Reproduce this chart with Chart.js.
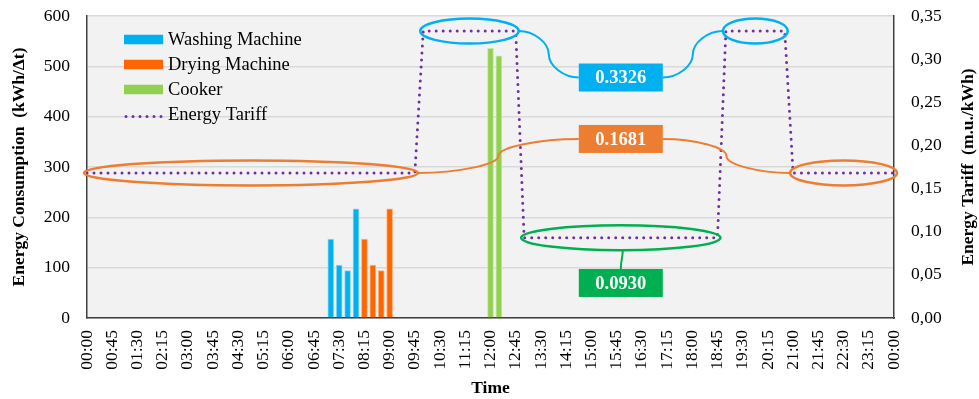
<!DOCTYPE html>
<html>
<head>
<meta charset="utf-8">
<script src="https://cdn.jsdelivr.net/npm/chart.js@4.4.1/dist/chart.umd.min.js"></script>
<style>
html, body { margin: 0; padding: 0; background: #fff; }
#wrap { width: 979px; height: 399px; position: relative; }
</style>
</head>
<body>
<div id="wrap"><canvas id="energyChart"></canvas></div>
<script>
// 15-minute slots over one day
const times = [
    '00:00', '00:15', '00:30', '00:45', '01:00', '01:15', '01:30', '01:45',
    '02:00', '02:15', '02:30', '02:45', '03:00', '03:15', '03:30', '03:45',
    '04:00', '04:15', '04:30', '04:45', '05:00', '05:15', '05:30', '05:45',
    '06:00', '06:15', '06:30', '06:45', '07:00', '07:15', '07:30', '07:45',
    '08:00', '08:15', '08:30', '08:45', '09:00', '09:15', '09:30', '09:45',
    '10:00', '10:15', '10:30', '10:45', '11:00', '11:15', '11:30', '11:45',
    '12:00', '12:15', '12:30', '12:45', '13:00', '13:15', '13:30', '13:45',
    '14:00', '14:15', '14:30', '14:45', '15:00', '15:15', '15:30', '15:45',
    '16:00', '16:15', '16:30', '16:45', '17:00', '17:15', '17:30', '17:45',
    '18:00', '18:15', '18:30', '18:45', '19:00', '19:15', '19:30', '19:45',
    '20:00', '20:15', '20:30', '20:45', '21:00', '21:15', '21:30', '21:45',
    '22:00', '22:15', '22:30', '22:45', '23:00', '23:15', '23:30', '23:45',
    '00:00'
];

const tickLabels = [
    '00:00', '00:45', '01:30', '02:15', '03:00', '03:45', '04:30', '05:15',
    '06:00', '06:45', '07:30', '08:15', '09:00', '09:45', '10:30', '11:15',
    '12:00', '12:45', '13:30', '14:15', '15:00', '15:45', '16:30', '17:15',
    '18:00', '18:45', '19:30', '20:15', '21:00', '21:45', '22:30', '23:15'
];

const washTimes = ['07:15', '07:30', '07:45', '08:00'];
const washValues = [157, 105, 94, 217];

const dryTimes = ['08:15', '08:30', '08:45', '09:00'];
const dryValues = [157, 105, 94, 217];

const cookTimes = ['12:00', '12:15'];
const cookValues = [536, 521];

const tariff = [
    0.1681, 0.1681, 0.1681, 0.1681, 0.1681, 0.1681, 0.1681, 0.1681,
    0.1681, 0.1681, 0.1681, 0.1681, 0.1681, 0.1681, 0.1681, 0.1681,
    0.1681, 0.1681, 0.1681, 0.1681, 0.1681, 0.1681, 0.1681, 0.1681,
    0.1681, 0.1681, 0.1681, 0.1681, 0.1681, 0.1681, 0.1681, 0.1681,
    0.1681, 0.1681, 0.1681, 0.1681, 0.1681, 0.1681, 0.1681, 0.1681,
    0.3326, 0.3326, 0.3326, 0.3326, 0.3326, 0.3326, 0.3326, 0.3326,
    0.3326, 0.3326, 0.3326, 0.3326, 0.0930, 0.0930, 0.0930, 0.0930,
    0.0930, 0.0930, 0.0930, 0.0930, 0.0930, 0.0930, 0.0930, 0.0930,
    0.0930, 0.0930, 0.0930, 0.0930, 0.0930, 0.0930, 0.0930, 0.0930,
    0.0930, 0.0930, 0.0930, 0.0930, 0.3326, 0.3326, 0.3326, 0.3326,
    0.3326, 0.3326, 0.3326, 0.3326, 0.1681, 0.1681, 0.1681, 0.1681,
    0.1681, 0.1681, 0.1681, 0.1681, 0.1681, 0.1681, 0.1681, 0.1681,
    0.1681
];

// callouts: tariff level, slot ranges circled, where the label box sits (tariff units)
const callouts = [
    { value: 0.3326, color: '#00B0F0', spans: [[40, 51], [76, 83]], boxY: 0.2787 },
    { value: 0.1681, color: '#ED7D31', spans: [[0, 39], [84, 96]], boxY: 0.2075 },
    { value: 0.0930, color: '#00B050', spans: [[52, 75]], boxY: 0.0406 }
];
const boxIndex = 63.5;

const serif = "'Liberation Serif', 'Times New Roman', serif";
Chart.defaults.font.family = serif;
Chart.defaults.color = '#000';

function curvedH(ctx, x1, y1, x2, y2) {
    const xm = (x1 + x2) / 2;
    const dy = y2 - y1;
    ctx.moveTo(x1, y1);
    ctx.bezierCurveTo((x1 + xm) / 2, y1, xm, y1 + dy / 4, xm, y1 + dy / 2);
    ctx.bezierCurveTo(xm, y1 + dy * 3 / 4, (xm + x2) / 2, y2, x2, y2);
}

// keep the plot top at the layout padding instead of tick padding
function fixY(width) {
    return s => {
        s.width = width;
        s.paddingTop = 0;
        s.paddingBottom = 0;
    };
}

const decor = {
    id: 'decor',
    beforeDraw(chart) {
        const a = chart.chartArea;
        const ctx = chart.ctx;
        ctx.save();
        ctx.fillStyle = '#F2F2F2';
        ctx.fillRect(a.left, a.top, a.right - a.left, a.bottom - a.top);
        ctx.restore();
    },
    afterDatasetsDraw(chart) {
        const ctx = chart.ctx;
        const a = chart.chartArea;
        const xS = chart.scales.x;
        const yT = chart.scales.y2;
        const pad = 3, ry = 12.5, bw = 84, bh = 28;
        const bx = xS.getPixelForValue(boxIndex);

        ctx.save();
        callouts.forEach(c => {
            const cy = yT.getPixelForValue(c.value);
            const by = yT.getPixelForValue(c.boxY);
            const rings = c.spans.map(s => {
                const x0 = xS.getPixelForValue(s[0]) - pad;
                const x1 = xS.getPixelForValue(s[1]) + pad;
                return { l: x0, r: x1, cx: (x0 + x1) / 2, rx: (x1 - x0) / 2 };
            });

            ctx.strokeStyle = c.color;
            ctx.lineWidth = 2.5;
            rings.forEach(r => {
                ctx.beginPath();
                ctx.ellipse(r.cx, cy, r.rx, ry, 0, 0, Math.PI * 2);
                ctx.stroke();
            });

            ctx.lineWidth = 2;
            ctx.beginPath();
            if (rings.length === 2) {
                curvedH(ctx, rings[0].r, cy, bx - bw / 2, by);
                curvedH(ctx, bx + bw / 2, by, rings[1].l, cy);
            } else {
                const sx = rings[0].cx + 2, sy = cy + ry - 1;
                const ey = by - bh / 2;
                ctx.moveTo(sx, sy);
                ctx.bezierCurveTo(sx, sy + 10, bx, ey - 10, bx, ey);
            }
            ctx.stroke();

            ctx.fillStyle = c.color;
            ctx.fillRect(bx - bw / 2, by - bh / 2, bw, bh);
            ctx.fillStyle = '#fff';
            ctx.font = 'bold 18.5px ' + serif;
            ctx.textAlign = 'center';
            ctx.textBaseline = 'middle';
            ctx.fillText(c.value.toFixed(4), bx, by + 1);
        });

        // legend inside the plot
        const lx = a.left + 37;
        let ly = a.top + 23.5;
        ctx.font = '18.5px ' + serif;
        ctx.textAlign = 'left';
        ctx.textBaseline = 'middle';
        chart.data.datasets.forEach(ds => {
            if (ds.type === 'line') {
                ctx.save();
                ctx.strokeStyle = ds.borderColor;
                ctx.lineWidth = 3;
                ctx.lineCap = 'round';
                ctx.setLineDash([0, 7]);
                ctx.beginPath();
                ctx.moveTo(lx + 2, ly + 2);
                ctx.lineTo(lx + 40, ly + 2);
                ctx.stroke();
                ctx.restore();
            } else {
                ctx.fillStyle = ds.backgroundColor;
                ctx.fillRect(lx, ly - 4.75, 39, 9.5);
            }
            ctx.fillStyle = '#000';
            ctx.fillText(ds.label, lx + 44, ly + 1);
            ly += 25;
        });

        // right axis title, reading bottom to top
        ctx.translate(968, (a.top + a.bottom) / 2);
        ctx.rotate(-Math.PI / 2);
        ctx.font = 'bold 17.5px ' + serif;
        ctx.textAlign = 'center';
        ctx.fillStyle = '#000';
        ctx.fillText('Energy Tariff  (m.u./kWh)', 0, 0);
        ctx.restore();
    }
};

const points = (ts, vs) => ts.map((t, i) => ({ x: t, y: vs[i] }));

new Chart(document.getElementById('energyChart'), {
    data: {
        labels: times,
        datasets: [
            {
                type: 'bar',
                label: 'Washing Machine',
                data: points(washTimes, washValues),
                backgroundColor: '#00B0F0',
                borderColor: '#8ED9F6',
                borderWidth: 1,
                barThickness: 6,
                grouped: false,
                yAxisID: 'y',
                order: 2
            },
            {
                type: 'bar',
                label: 'Drying Machine',
                data: points(dryTimes, dryValues),
                backgroundColor: '#FF6600',
                borderColor: '#FFB27F',
                borderWidth: 1,
                barThickness: 6,
                grouped: false,
                yAxisID: 'y',
                order: 2
            },
            {
                type: 'bar',
                label: 'Cooker',
                data: points(cookTimes, cookValues),
                backgroundColor: '#92D050',
                borderColor: '#C6E8A7',
                borderWidth: 1,
                barThickness: 6,
                grouped: false,
                yAxisID: 'y',
                order: 2
            },
            {
                type: 'line',
                label: 'Energy Tariff',
                data: tariff,
                borderColor: '#7030A0',
                borderWidth: 3,
                borderDash: [0, 7],
                borderCapStyle: 'round',
                pointRadius: 0,
                tension: 0,
                fill: false,
                yAxisID: 'y2',
                order: 1
            }
        ]
    },
    options: {
        responsive: true,
        maintainAspectRatio: false,
        animation: false,
        events: [],
        layout: { padding: { top: 16, left: 0, right: 0, bottom: 0 } },
        plugins: {
            legend: { display: false },
            tooltip: { enabled: false }
        },
        scales: {
            x: {
                offset: false,
                afterFit: s => { s.height = 81; },
                grid: { display: false, drawTicks: false },
                border: { display: true, color: '#404040', width: 1.5 },
                ticks: {
                    autoSkip: false,
                    minRotation: 90,
                    maxRotation: 90,
                    padding: 12,
                    font: { size: 17.5 },
                    color: '#000',
                    callback: function (v) {
                        const t = this.getLabelForValue(v);
                        return tickLabels.includes(t) ? t : '';
                    }
                },
                title: {
                    display: true,
                    text: 'Time',
                    font: { size: 17.5, weight: 'bold' },
                    padding: { top: 0, bottom: 0 }
                }
            },
            y: {
                position: 'left',
                min: 0,
                max: 600,
                afterFit: fixY(87),
                ticks: { stepSize: 100, padding: 17, font: { size: 17.5 }, color: '#000' },
                grid: { color: '#D9D9D9', lineWidth: 1.5, drawTicks: false },
                border: { display: true, color: '#404040', width: 1.5 },
                title: {
                    display: true,
                    text: 'Energy Consumption  (kWh/\u0394t)',
                    font: { size: 17.5, weight: 'bold' },
                    padding: { top: 9, bottom: 0 }
                }
            },
            y2: {
                position: 'right',
                min: 0,
                max: 0.35,
                afterFit: fixY(85),
                ticks: {
                    stepSize: 0.05,
                    padding: 17,
                    font: { size: 17.5 },
                    color: '#000',
                    callback: v => v.toFixed(2).replace('.', ',')
                },
                grid: { display: false, drawTicks: false },
                border: { display: true, color: '#404040', width: 1.5 }
            }
        }
    },
    plugins: [decor]
});
</script>
</body>
</html>
